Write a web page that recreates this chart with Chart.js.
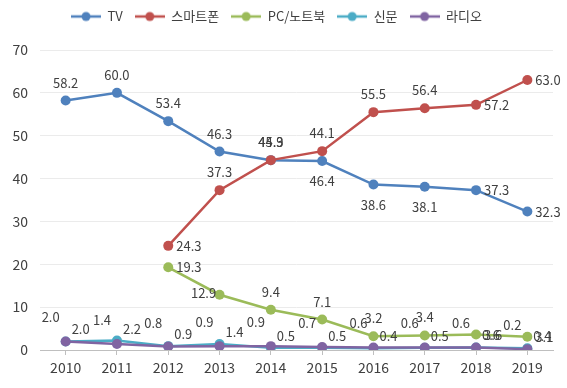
<!DOCTYPE html>
<html>
<head>
<meta charset="utf-8">
<script src="https://cdn.jsdelivr.net/npm/chart.js@4"></script>
<style>
  html, body { margin: 0; padding: 0; background: #fff; }
  #wrap { width: 567px; height: 388px; }
</style>
</head>
<body>
<div id="wrap"><canvas id="mediaChart" width="567" height="388"></canvas></div>
<script>
const years = ["2010", "2011", "2012", "2013", "2014", "2015", "2016", "2017", "2018", "2019"];
const seriesNames = ["TV", "스마트폰", "PC/노트북", "신문", "라디오"];

const tvValues = [58.2, 60.0, 53.4, 46.3, 44.3, 44.1, 38.6, 38.1, 37.3, 32.3];
const phoneValues = [null, null, 24.3, 37.3, 44.3, 46.4, 55.5, 56.4, 57.2, 63.0];
const pcValues = [null, null, 19.3, 12.9, 9.4, 7.1, 3.2, 3.4, 3.6, 3.1];
const paperValues = [2.0, 2.2, 0.9, 1.4, 0.5, 0.5, 0.4, 0.5, 0.6, 0.4];
const radioValues = [2.0, 1.4, 0.8, 0.9, 0.9, 0.7, 0.6, 0.6, 0.6, 0.2];

// label text as printed on the original (some differ from the plotted point)
const tvLabels = ["58.2", "60.0", "53.4", "46.3", "44.3", "46.4", "38.6", "38.1", "37.3", "32.3"];
const phoneLabels = [null, null, "24.3", "37.3", "45.9", "44.1", "55.5", "56.4", "57.2", "63.0"];

const yTicks = [0, 10, 20, 30, 40, 50, 60, 70];

const colors = ["#4f81bd", "#c0504d", "#9bbb59", "#4bacc6", "#8064a2"];
const FONT = "'Noto Sans CJK KR', 'Noto Sans', sans-serif";

// where each series puts its value labels
const labelPlacement = [
  ["t", "t", "t", "t", "t", "b", "b", "b", "r", "r"],
  [null, null, "r", "t", "t", "t", "t", "t", "r", "r"],
  [null, null, "r", "l", "t", "t", "t", "t", "r", "r"],
  ["tr", "tr", "tr", "tr", "tr", "tr", "tr", "tr", "tr", "tr"],
  ["tl", "tl", "tl", "tl", "tl", "tl", "tl", "tl", "tl", "tl"],
];

function legendMarker(color) {
  const c = document.createElement("canvas");
  c.width = 30;
  c.height = 12;
  const g = c.getContext("2d");
  g.strokeStyle = color;
  g.lineWidth = 2.5;
  g.beginPath();
  g.moveTo(0, 6);
  g.lineTo(30, 6);
  g.stroke();
  g.fillStyle = color;
  g.beginPath();
  g.arc(15, 6, 4.5, 0, Math.PI * 2);
  g.fill();
  return c;
}

// extra gap under the legend
const legendGap = {
  id: "legendGap",
  beforeLayout(chart) {
    const lg = chart.legend;
    if (!lg || lg._gapPatched) return;
    const fit = lg.fit;
    lg.fit = function () {
      fit.call(this);
      this.height += 17;
    };
    lg._gapPatched = true;
  },
};

const valueLabels = {
  id: "valueLabels",
  afterDatasetsDraw(chart) {
    const ctx = chart.ctx;
    ctx.save();
    ctx.font = "13px " + FONT;
    ctx.fillStyle = "#404040";
    chart.data.datasets.forEach((ds, i) => {
      const meta = chart.getDatasetMeta(i);
      meta.data.forEach((pt, j) => {
        const v = ds.data[j];
        if (v === null || v === undefined) return;
        const pos = labelPlacement[i][j];
        if (!pos) return;
        let text = v.toFixed(1);
        if (i === 0) text = tvLabels[j];
        if (i === 1) text = phoneLabels[j];
        let x = pt.x, y = pt.y;
        ctx.textAlign = "center";
        ctx.textBaseline = "middle";
        if (pos === "t") y -= 18;
        else if (pos === "b") y += 20;
        else if (pos === "r") { x += 8; ctx.textAlign = "left"; }
        else if (pos === "l") { x -= 16; y -= 2; }
        else if (pos === "tr") { x += 15; y -= 12; }
        else if (pos === "tl") { x -= 15; y -= 24; }
        ctx.fillText(text, x, y);
      });
    });
    ctx.restore();
  },
};

const allValues = [tvValues, phoneValues, pcValues, paperValues, radioValues];

new Chart(document.getElementById("mediaChart").getContext("2d"), {
  type: "line",
  data: {
    labels: years,
    datasets: seriesNames.map((name, i) => ({
      label: name,
      data: allValues[i],
      borderColor: colors[i],
      backgroundColor: colors[i],
      pointBackgroundColor: colors[i],
      pointBorderColor: colors[i],
      pointRadius: 5,
      pointBorderWidth: 0,
      borderWidth: 2.5,
      tension: 0,
      order: 5 - i,
    })),
  },
  options: {
    responsive: false,
    animation: false,
    layout: { padding: { top: -2, right: 14, left: 0, bottom: 0 } },
    plugins: {
      tooltip: { enabled: false },
      legend: {
        position: "top",
        labels: {
          font: { family: FONT, size: 13 },
          color: "#404040",
          usePointStyle: true,
          pointStyleWidth: 30,
          padding: 12,
          sort: (a, b) => a.datasetIndex - b.datasetIndex,
          generateLabels(chart) {
            const items = Chart.defaults.plugins.legend.labels.generateLabels(chart);
            items.forEach((it) => {
              it.pointStyle = legendMarker(colors[it.datasetIndex]);
            });
            return items;
          },
        },
      },
    },
    scales: {
      x: {
        offset: true,
        grid: {
          display: true,
          drawOnChartArea: false,
          drawTicks: true,
          tickLength: 5,
          color: "#bfbfbf",
        },
        border: { display: true, color: "#bfbfbf", width: 1 },
        ticks: {
          font: { family: FONT, size: 14 },
          color: "#404040",
          padding: 4,
          maxRotation: 0,
        },
        afterFit(scale) { scale.height = 38; },
      },
      y: {
        min: 0,
        max: 70,
        afterBuildTicks(scale) { scale.ticks = yTicks.map((v) => ({ value: v })); },
        grid: { color: "#ebebeb", drawTicks: false },
        border: { display: false },
        ticks: {
          font: { family: FONT, size: 14 },
          color: "#404040",
          padding: 12,
        },
        afterFit(scale) { scale.width = 40; },
      },
    },
  },
  plugins: [legendGap, valueLabels],
});
</script>
</body>
</html>
